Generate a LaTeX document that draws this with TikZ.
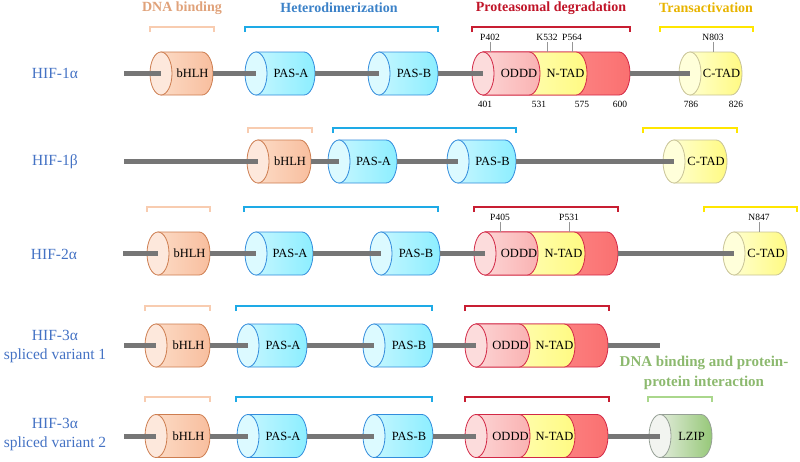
\documentclass[tikz,border=0pt]{standalone}
\usepackage{fontspec}
\setmainfont{Liberation Serif}
\usepackage{xcolor}
\usetikzlibrary{positioning}

% colours
\definecolor{hifblue}{RGB}{68,114,196}
\definecolor{lineg}{RGB}{118,118,118}
\definecolor{tickg}{RGB}{150,150,150}
\definecolor{tdna}{RGB}{224,162,122}
\definecolor{thet}{RGB}{60,130,200}
\definecolor{tpro}{RGB}{192,20,40}
\definecolor{ttra}{RGB}{232,180,0}
\definecolor{tlz}{RGB}{140,185,110}
\definecolor{kdna}{RGB}{248,204,176}
\definecolor{khet}{RGB}{30,170,230}
\definecolor{kpro}{RGB}{200,30,50}
\definecolor{ktra}{RGB}{255,230,0}
\definecolor{klz}{RGB}{170,215,140}
\definecolor{bhlhF}{RGB}{253,232,220}
\definecolor{bhlhL}{RGB}{252,218,196}
\definecolor{bhlhR}{RGB}{248,190,158}
\definecolor{bhlhD}{RGB}{205,125,80}
\definecolor{pasF}{RGB}{220,250,255}
\definecolor{pasL}{RGB}{195,246,255}
\definecolor{pasR}{RGB}{140,238,255}
\definecolor{pasD}{RGB}{50,140,220}
\definecolor{odF}{RGB}{252,220,220}
\definecolor{odL}{RGB}{252,212,212}
\definecolor{odR}{RGB}{250,178,178}
\definecolor{tlL}{RGB}{255,160,160}
\definecolor{tlR}{RGB}{250,112,112}
\definecolor{odD}{RGB}{210,40,70}
\definecolor{ntL}{RGB}{255,255,205}
\definecolor{ntR}{RGB}{255,250,130}
\definecolor{ctF}{RGB}{255,255,218}
\definecolor{ctD}{RGB}{200,195,150}
\definecolor{lzF}{RGB}{242,244,240}
\definecolor{lzL}{RGB}{225,235,218}
\definecolor{lzR}{RGB}{150,200,120}
\definecolor{lzD}{RGB}{150,160,150}

\tikzset{
  backbone/.style={draw=lineg, line width=5pt},
  bracket/.style={line width=1.2pt},
  tick/.style={draw=tickg, line width=0.6pt},
  dom/.style={font=\fontsize{12.5}{14}\selectfont, inner sep=0pt},
  res/.style={font=\fontsize{9.5}{11}\selectfont, inner sep=0pt},
  title/.style={font=\fontsize{14}{16}\selectfont\bfseries, inner sep=0pt},
  hif/.style={font=\fontsize{15.5}{19}\selectfont, text=hifblue, align=center, inner sep=0pt},
  bhlh body/.style={left color=bhlhL, right color=bhlhR, draw=bhlhD},
  bhlh face/.style={fill=bhlhF, draw=bhlhD},
  pas body/.style={left color=pasL, right color=pasR, draw=pasD},
  pas face/.style={fill=pasF, draw=pasD},
  ctad body/.style={left color=ntL, right color=ntR, draw=ctD},
  ctad face/.style={fill=ctF, draw=ctD},
  lzip body/.style={left color=lzL, right color=lzR, draw=lzD},
  lzip face/.style={fill=lzF, draw=lzD},
  tail body/.style={left color=tlL, right color=tlR, draw=odD},
  ntad body/.style={left color=ntL, right color=ntR, draw=odD},
  oddd body/.style={left color=odL, right color=odR, draw=odD},
  oddd face/.style={fill=odF, draw=odD},
}

% one domain: name, left x, right x, y, kind, text
\newcommand{\cyl}[6]{%
  \path[#5 body, line width=0.8pt] (#2+11,#4-21.5) -- (#3-11,#4-21.5)
    arc[start angle=90, end angle=-90, x radius=11pt, y radius=21.5pt] -- (#2+11,#4+21.5) -- cycle;
  \path[#5 face, line width=0.8pt] (#2+11,#4) ellipse[x radius=11pt, y radius=21.5pt];
  \coordinate (#1-in) at (#2+11,#4);
  \coordinate (#1-out) at (#3,#4);
  \node[dom] (#1) at ({(#2+22+#3)/2},#4) {#6};
}
% ODDD / N-TAD block: name, left x, ODDD end, N-TAD end, right x, y
\newcommand{\odd}[6]{%
  \path[tail body, line width=0.8pt] (#2+11,#6-21.5) -- (#5-11,#6-21.5)
    arc[start angle=90, end angle=-90, x radius=11pt, y radius=21.5pt] -- (#2+11,#6+21.5) -- cycle;
  \path[ntad body, line width=0.8pt] (#2+11,#6-21.5) -- (#4-11,#6-21.5)
    arc[start angle=90, end angle=-90, x radius=11pt, y radius=21.5pt] -- (#2+11,#6+21.5) -- cycle;
  \path[oddd body, line width=0.8pt] (#2+11,#6-21.5) -- (#3-11,#6-21.5)
    arc[start angle=90, end angle=-90, x radius=11pt, y radius=21.5pt] -- (#2+11,#6+21.5) -- cycle;
  \path[oddd face, line width=0.8pt] (#2+11,#6) ellipse[x radius=11pt, y radius=21.5pt];
  \coordinate (#1-in) at (#2+11,#6);
  \coordinate (#1-out) at (#5,#6);
  \node[dom] (#1-a) at ({(#2+22+#3)/2+2},#6) {ODDD};
  \node[dom] (#1-b) at ({(#3+#4)/2+2},#6) {N-TAD};
}
% bracket: left x, right x, y, colour
\newcommand{\brk}[4]{\draw[bracket, #4] (#1,#3+5) -- (#1,#3) -- (#2,#3) -- (#2,#3+5);}
% residue mark: name, x, top of domain, text
\newcommand{\site}[4]{%
  \node[res] (#1) at (#2,#3-15) {#4};
  \draw[tick] ([yshift=-1.5pt]#1.south) -- (#2,#3);
}

\begin{document}
\begin{tikzpicture}[x=1pt, y=-1pt]
\useasboundingbox (0,0) rectangle (800,461);

% titles
\node[title, text=tdna] (tdna) at (182,8) {DNA binding};
\node[title, text=thet] (thet) at (339,8) {Heterodimerization};
\node[title, text=tpro] (tpro) at (551,8) {Proteasomal degradation};
\node[title, text=ttra] (ttra) at (706,8) {Transactivation};
\node[title, text=tlz, font=\fontsize{15}{20}\selectfont\bfseries, align=center] (tlz) at (704,373)
  {DNA binding and protein-\\protein interaction};

% HIF-1a
\node[hif] (l1) at (55,73.5) {HIF-1α};
\brk{150}{214}{27}{kdna} \brk{245}{438}{27}{khet} \brk{472}{630}{27}{kpro} \brk{660}{753}{27}{ktra}
\coordinate (a1-s) at (124,73.5);
\cyl{a1-bhlh}{150}{213}{73.5}{bhlh}{bHLH}
\cyl{a1-pasa}{245}{315}{73.5}{pas}{PAS-A}
\cyl{a1-pasb}{368}{438}{73.5}{pas}{PAS-B}
\odd{a1-od}{472}{540}{587}{630}{73.5}
\cyl{a1-ctad}{679}{742}{73.5}{ctad}{C-TAD}
\draw[backbone] (a1-s) -- (a1-bhlh-in) (a1-bhlh-out) -- (a1-pasa-in) (a1-pasa-out) -- (a1-pasb-in)
  (a1-pasb-out) -- (a1-od-in) (a1-od-out) -- (a1-ctad-in);
\site{a1-p402}{490}{52}{P402}
\site{a1-k532}{547}{52}{K532}
\site{a1-p564}{572}{52}{P564}
\site{a1-n803}{713}{52}{N803}
\node[res] (n401) at (485,104) {401};
\node[res] (n531) at (539,104) {531};
\node[res] (n575) at (582,104) {575};
\node[res] (n600) at (620,104) {600};
\node[res] (n786) at (691,104) {786};
\node[res] (n826) at (736,104) {826};

% HIF-1b
\node[hif] (l2) at (55,162) {HIF-1β};
\brk{248}{312}{128}{kdna} \brk{333}{516}{128}{khet} \brk{643}{737}{128}{ktra}
\coordinate (b1-s) at (124,161.5);
\cyl{b1-bhlh}{247}{311}{161.5}{bhlh}{bHLH}
\cyl{b1-pasa}{328}{397}{161.5}{pas}{PAS-A}
\cyl{b1-pasb}{447}{516}{161.5}{pas}{PAS-B}
\cyl{b1-ctad}{663}{727}{161.5}{ctad}{C-TAD}
\draw[backbone] (b1-s) -- (b1-bhlh-in) (b1-bhlh-out) -- (b1-pasa-in) (b1-pasa-out) -- (b1-pasb-in)
  (b1-pasb-out) -- (b1-ctad-in);

% HIF-2a
\node[hif] (l3) at (54,254) {HIF-2α};
\brk{147}{210}{207}{kdna} \brk{244}{438}{207}{khet} \brk{474}{618}{207}{kpro} \brk{704}{797}{207}{ktra}
\coordinate (a2-s) at (123,253.5);
\cyl{a2-bhlh}{147}{210}{253.5}{bhlh}{bHLH}
\cyl{a2-pasa}{245}{313}{253.5}{pas}{PAS-A}
\cyl{a2-pasb}{370}{440}{253.5}{pas}{PAS-B}
\odd{a2-od}{474}{538}{585}{618}{253.5}
\cyl{a2-ctad}{723}{787}{253.5}{ctad}{C-TAD}
\draw[backbone] (a2-s) -- (a2-bhlh-in) (a2-bhlh-out) -- (a2-pasa-in) (a2-pasa-out) -- (a2-pasb-in)
  (a2-pasb-out) -- (a2-od-in) (a2-od-out) -- (a2-ctad-in);
\site{a2-p405}{500}{232}{P405}
\site{a2-p531}{569}{232}{P531}
\site{a2-n847}{759}{232}{N847}

% HIF-3a variant 1
\node[hif] (l4) at (55,346.5) {HIF-3α\\spliced variant 1};
\brk{145}{210}{306}{kdna} \brk{236}{432}{306}{khet} \brk{465}{609}{306}{kpro}
\coordinate (v1-s) at (124,345.5);
\coordinate (v1-e) at (660,345.5);
\cyl{v1-bhlh}{145}{210}{345.5}{bhlh}{bHLH}
\cyl{v1-pasa}{237}{307}{345.5}{pas}{PAS-A}
\cyl{v1-pasb}{363}{433}{345.5}{pas}{PAS-B}
\odd{v1-od}{465}{530}{575}{608}{345.5}
\draw[backbone] (v1-s) -- (v1-bhlh-in) (v1-bhlh-out) -- (v1-pasa-in) (v1-pasa-out) -- (v1-pasb-in)
  (v1-pasb-out) -- (v1-od-in) (v1-od-out) -- (v1-e);

% HIF-3a variant 2
\node[hif] (l5) at (55,434.5) {HIF-3α\\spliced variant 2};
\brk{145}{210}{397}{kdna} \brk{236}{432}{397}{khet} \brk{465}{609}{397}{kpro} \brk{648}{712}{397}{klz}
\coordinate (v2-s) at (124,436);
\cyl{v2-bhlh}{145}{210}{436}{bhlh}{bHLH}
\cyl{v2-pasa}{237}{307}{436}{pas}{PAS-A}
\cyl{v2-pasb}{363}{433}{436}{pas}{PAS-B}
\odd{v2-od}{465}{530}{575}{608}{436}
\cyl{v2-lzip}{649}{712}{436}{lzip}{LZIP}
\draw[backbone] (v2-s) -- (v2-bhlh-in) (v2-bhlh-out) -- (v2-pasa-in) (v2-pasa-out) -- (v2-pasb-in)
  (v2-pasb-out) -- (v2-od-in) (v2-od-out) -- (v2-lzip-in);
\end{tikzpicture}
\end{document}
